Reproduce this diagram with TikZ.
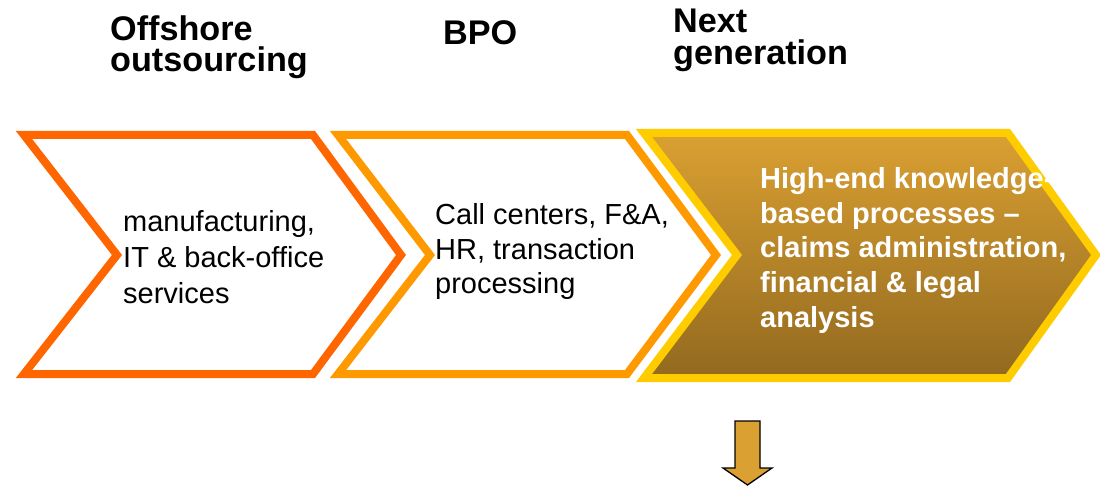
\documentclass[tikz,border=0pt]{standalone}
\usepackage{fontspec}
\setmainfont{Liberation Sans}
\definecolor{orA}{HTML}{FF6600}
\definecolor{orB}{HTML}{FF9900}
\definecolor{orC}{HTML}{FFCC00}
\definecolor{goldT}{HTML}{DAA032}
\definecolor{goldB}{HTML}{92691F}
\definecolor{arrowfill}{HTML}{DAA032}
\begin{document}
\begin{tikzpicture}[x=1pt,y=-1pt,
  chev/.style={line width=8pt, miter limit=10, line join=miter},
  ttl/.style={anchor=base west, inner sep=0pt, font=\fontsize{34.2}{34}\selectfont\bfseries},
  body/.style={anchor=base west, inner sep=0pt, font=\fontsize{29}{35}\selectfont},
  bodyw/.style={anchor=base west, inner sep=0pt, text=white, font=\fontsize{29}{35}\selectfont\bfseries}]
\useasboundingbox (0,0) rectangle (1100,486);
\fill[white] (0,0) rectangle (1100,486);
% chevrons
\draw[chev, draw=orA, fill=white] (24,135) -- (313,135) -- (401,255) -- (313,374) -- (24,374) -- (117,255) -- cycle;
\draw[chev, draw=orB, fill=white] (338,135) -- (627,135) -- (716,255) -- (627,374) -- (338,374) -- (430,255) -- cycle;
\path[chev, draw=orC, top color=goldT, bottom color=goldB] (644,133) -- (1008,133) -- (1096,255) -- (1008,378) -- (644,378) -- (737,255) -- cycle;
% titles
\node[ttl] (h1a) at (110,41) {Offshore};
\node[ttl] (h1b) at (110,72) {outsourcing};
\node[ttl] (h2) at (443,45) {BPO};
\node[ttl] (h3a) at (673,33) {Next};
\node[ttl] (h3b) at (673,65) {generation};
% body texts
\node[body] (a1) at (123,232) {manufacturing,};
\node[body] (a2) at (123,268) {IT \& back-office};
\node[body] (a3) at (123,303) {services};
\node[body] (b1) at (435,225) {Call centers, F\&A,};
\node[body] (b2) at (435,260) {HR, transaction};
\node[body] (b3) at (435,294) {processing};
\node[bodyw] (c1) at (760,189) {High-end knowledge-};
\node[bodyw] (c2) at (760,223.5) {based processes –};
\node[bodyw] (c3) at (760,258) {claims administration,};
\node[bodyw] (c4) at (760,292.5) {financial \& legal};
\node[bodyw] (c5) at (760,327) {analysis};
% down arrow
\draw[fill=arrowfill, draw=black, line width=1.3pt, line join=miter]
  (735,421) -- (760,421) -- (760,468) -- (772,468) -- (747.5,485) -- (723,468) -- (735,468) -- cycle;
\end{tikzpicture}
\end{document}
